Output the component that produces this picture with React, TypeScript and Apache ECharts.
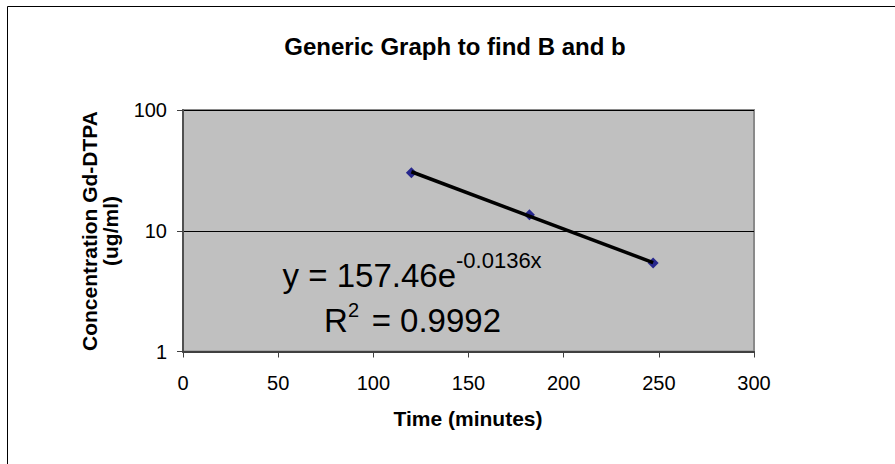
import React, { useEffect, useRef } from "react";
import * as echarts from "echarts";

const timeMinutes = [120, 182, 247];
const concentration = [30.2, 13.6, 5.4];
const trendTime = [120, 247];
const trendConc = [30.8, 5.45];
const xAxisMin = 0;
const xAxisMax = 300;
const xAxisStep = 50;
const yAxisMin = 1;
const yAxisMax = 100;

const titleText = "Generic Graph to find B and b";
const xTitle = "Time (minutes)";
const yTitle1 = "Concentration Gd-DTPA";
const yTitle2 = "(ug/ml)";
const eqMain = "y = 157.46e";
const eqExp = "-0.0136x";
const r2Main = "R";
const r2Exp = "2";
const r2Rest = "= 0.9992";

const FONT = "'Liberation Sans', Arial, Helvetica, sans-serif";

export default function App() {
  const ref = useRef<HTMLDivElement>(null);
  useEffect(() => {
    if (!ref.current) return;
    const chart = echarts.init(ref.current, undefined, { renderer: "svg" });
    const txt = (x: number, y: number, text: string, size: number, bold: boolean, align = "left", rotation = 0) => ({
      type: "text",
      x,
      y,
      rotation,
      z: 100,
      style: {
        text,
        fill: "#000",
        font: `${bold ? "bold " : ""}${size}px ${FONT}`,
        textAlign: align,
        textVerticalAlign: "middle",
      },
    });
    chart.setOption({
      animation: false,
      backgroundColor: "#fff",
      grid: {
        left: 183,
        top: 110,
        right: 141,
        bottom: 112.5,
        show: true,
        backgroundColor: "#C0C0C0",
        borderColor: "#8a8a8a",
        borderWidth: 2,
      },
      xAxis: {
        type: "value",
        min: xAxisMin,
        max: xAxisMax,
        interval: xAxisStep,
        axisLine: { show: true, lineStyle: { color: "#404040", width: 2 } },
        axisTick: { show: true, length: 6, inside: false, lineStyle: { color: "#404040", width: 1 } },
        axisLabel: { color: "#000", fontSize: 20, fontFamily: FONT, margin: 21 },
        splitLine: { show: false },
      },
      yAxis: {
        type: "log",
        logBase: 10,
        min: yAxisMin,
        max: yAxisMax,
        interval: 1,
        axisLine: { show: true, lineStyle: { color: "#505050", width: 2 } },
        axisTick: { show: true, length: 6, inside: false, lineStyle: { color: "#404040", width: 1 } },
        axisLabel: { color: "#000", fontSize: 20, fontFamily: FONT, margin: 16 },
        splitLine: { show: true, lineStyle: { color: "#000", width: 1 } },
      },
      series: [
        {
          type: "scatter",
          data: timeMinutes.map((t, i) => [t, concentration[i]]),
          symbol: "diamond",
          symbolSize: 11,
          itemStyle: { color: "#000080" },
          z: 2,
        },
        {
          type: "line",
          data: trendTime.map((t, i) => [t, trendConc[i]]),
          symbol: "none",
          lineStyle: { color: "#000", width: 3.5 },
          z: 3,
        },
      ],
      graphic: [
        {
          type: "rect",
          shape: { x: 7.5, y: 6.5, width: 1200, height: 1200 },
          style: { fill: "none", stroke: "#000", lineWidth: 1 },
          z: 0,
          silent: true,
        },
        txt(455, 46.5, titleText, 24, true, "center"),
        txt(468, 418, xTitle, 21, true, "center"),
        txt(89, 231, yTitle1, 21, true, "center", Math.PI / 2),
        txt(110, 231, yTitle2, 21, true, "center", Math.PI / 2),
        txt(456, 275, eqMain, 33, false, "right"),
        txt(456, 260.5, eqExp, 22, false),
        txt(324, 320.5, r2Main, 33, false),
        txt(348, 310, r2Exp, 20, false),
        txt(501, 320.5, r2Rest, 33, false, "right"),
      ],
    });
    return () => chart.dispose();
  }, []);
  return <div ref={ref} style={{ position: "absolute", left: 0, top: 0, width: 895, height: 464 }} />;
}
